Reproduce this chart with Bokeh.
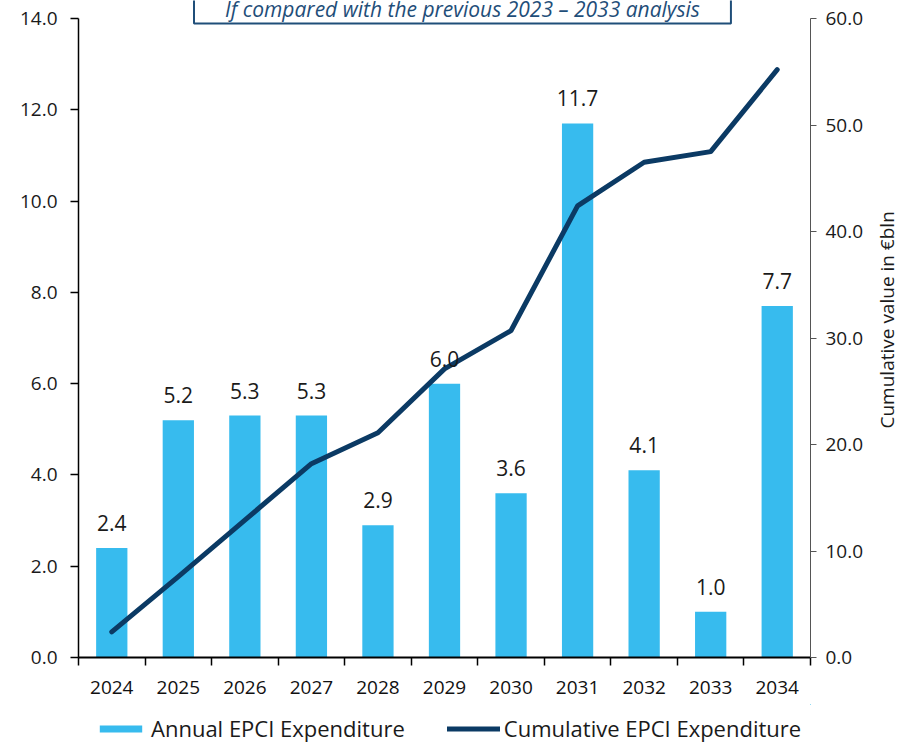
import math
from bokeh.plotting import figure
from bokeh.layouts import column
from bokeh.models import (ColumnDataSource, Range1d, LinearAxis, FixedTicker,
                          NumeralTickFormatter, Legend, LegendItem, Label)
from bokeh.core.properties import value
from bokeh.embed import file_html
from bokeh.resources import INLINE

# ---- data ----
years = ["2024", "2025", "2026", "2027", "2028", "2029", "2030", "2031", "2032", "2033", "2034"]
annual = [2.4, 5.2, 5.3, 5.3, 2.9, 6.0, 3.6, 11.7, 4.1, 1.0, 7.7]
cumulative = [2.4, 7.6, 12.9, 18.2, 21.1, 27.1, 30.7, 42.4, 46.5, 47.5, 55.2]
left_ticks = [0, 2, 4, 6, 8, 10, 12, 14]
right_ticks = [0, 10, 20, 30, 40, 50, 60]
left_max, right_max = 14, 60
series_names = ["Annual EPCI Expenditure", "Cumulative EPCI Expenditure"]
right_title = "Cumulative value in €bln"
note_text = "If compared with the previous 2023 – 2033 analysis"

BAR = "#37BBEE"
LINE = "#0B3A64"
NOTE = "#1F4E79"
FONT = "Open Sans"

n = len(years)
xc = [i + 0.5 for i in range(n)]
src = ColumnDataSource(dict(x=xc, year=years, annual=annual, cum=cumulative,
                            lbl=[f"{v:.1f}" for v in annual]))

# ---- layout (page pixels; the page has no margin) ----
W, H1, H2 = 915, 704, 40
FL, FR, FB = 78, 812, 657          # frame left/right/bottom; frame top = 0
TOP_GAP = 18                       # px between top and the 14.0 level
ext = FB / (FB - TOP_GAP)
px_per_unit = (FB - TOP_GAP) / left_max
px_per_cum = (FB - TOP_GAP) / right_max
TITLE_START_PX = 428               # page y where the rotated right title starts

p = figure(width=W, height=H1, output_backend="svg", toolbar_location=None,
           x_range=Range1d(0, n), y_range=Range1d(0, left_max * ext),
           min_border_left=FL, min_border_right=W - FR,
           min_border_top=0, min_border_bottom=H1 - FB,
           background_fill_color="white", border_fill_color="white")
p.outline_line_color = None
p.xgrid.visible = False
p.ygrid.visible = False
p.extra_y_ranges = {"cum": Range1d(0, right_max * ext)}

bars = p.vbar(x="x", top="annual", width=0.47, source=src, fill_color=BAR, line_color=None)
line = p.line(x="x", y="cum", source=src, y_range_name="cum", line_width=5,
              line_color=LINE, line_cap="round", line_join="round")
p.text(x="x", y="annual", text="lbl", source=src, text_align="center",
       text_baseline="alphabetic", y_offset=-25, text_font=value(FONT),
       text_font_size="21px", text_color="#1a1a1a")

# x axis: labels at centers, ticks at category boundaries
xa = p.xaxis[0]
xa.ticker = FixedTicker(ticks=xc, minor_ticks=list(range(n + 1)))
xa.major_label_overrides = {x: y for x, y in zip(xc, years)}
xa.major_tick_out = 0
xa.major_tick_in = 0
xa.minor_tick_out = 8
xa.minor_tick_in = 0
xa.minor_tick_line_color = "black"
xa.minor_tick_line_width = 1.5
xa.axis_line_color = "black"
xa.axis_line_width = 2
xa.major_label_text_font = FONT
xa.major_label_text_font_size = "19px"
xa.major_label_text_color = "#111111"
xa.major_label_standoff = 15

ya = p.yaxis[0]
ya.ticker = FixedTicker(ticks=left_ticks)
ya.formatter = NumeralTickFormatter(format="0.0")
ya.bounds = (0, left_max)
ya.major_tick_out = 8
ya.major_tick_in = 0
ya.minor_tick_out = 0
ya.minor_tick_in = 0
ya.axis_line_color = "black"
ya.axis_line_width = 1.5
ya.major_tick_line_width = 1.5
ya.major_label_text_font = FONT
ya.major_label_text_font_size = "19px"
ya.major_label_text_color = "#1a1a1a"
ya.major_label_standoff = 13

ra = LinearAxis(y_range_name="cum", ticker=FixedTicker(ticks=right_ticks),
                formatter=NumeralTickFormatter(format="0.0"), bounds=(0, right_max))
ra.major_tick_out = 6
ra.major_tick_in = 0
ra.minor_tick_out = 0
ra.minor_tick_in = 0
ra.axis_line_color = "#555555"
ra.major_tick_line_color = "#555555"
ra.major_label_text_font = FONT
ra.major_label_text_font_size = "19px"
ra.major_label_text_color = "#1a1a1a"
ra.major_label_standoff = 9
p.add_layout(ra, "right")

# right-hand title, drawn as the single rotated label of a bare axis
title_pos = (FB - TITLE_START_PX) / px_per_cum
ta = LinearAxis(y_range_name="cum", ticker=FixedTicker(ticks=[title_pos], minor_ticks=[]))
ta.major_label_overrides = {title_pos: right_title}
ta.major_label_orientation = math.pi / 2
ta.axis_line_color = None
ta.major_tick_line_color = None
ta.minor_tick_line_color = None
ta.major_tick_out = 0
ta.major_tick_in = 0
ta.major_label_standoff = 20
ta.major_label_text_font = FONT
ta.major_label_text_font_size = "19px"
ta.major_label_text_color = "#1a1a1a"
p.add_layout(ta, "right")

# note box at the top (padding order: left, right, top, bottom)
note_bottom_px = 23
note = Label(x=5.77, y=left_max - (note_bottom_px - TOP_GAP) / px_per_unit,
             text=note_text, text_align="center",
             text_baseline="bottom", text_font=FONT, text_font_size="21px",
             text_font_style="italic", text_color=NOTE,
             border_line_color=NOTE, border_line_width=2,
             background_fill_color="white", padding=(31, 31, 14, 1))
p.add_layout(note)

# legend strip (separate figure directly below); proxies use the same data,
# kept outside the strip's visible ranges
p2 = figure(width=W, height=H2, output_backend="svg", toolbar_location=None,
            x_axis_type=None, y_axis_type=None,
            x_range=Range1d(-3, -2), y_range=Range1d(-3, -2),
            min_border_left=FL, min_border_right=W - FR,
            min_border_top=0, min_border_bottom=0,
            background_fill_color="white", border_fill_color="white")
p2.outline_line_color = None
lb = p2.vbar(x="x", top="annual", width=0.47, source=src, fill_color=BAR, line_color=None)
ll = p2.line(x="x", y="cum", source=src, line_width=5, line_color=LINE, line_cap="round")
legend = Legend(items=[LegendItem(label=series_names[0], renderers=[lb]),
                       LegendItem(label=series_names[1], renderers=[ll])],
                location=(16, 1), orientation="horizontal", glyph_width=53,
                glyph_height=9, label_standoff=4, spacing=42, padding=0, margin=0,
                border_line_color=None, background_fill_alpha=0,
                label_text_font=FONT, label_text_font_size="22px",
                label_text_color="#1a1a1a")
p2.add_layout(legend, "center")

layout = column(p, p2, spacing=0)
open("out.html", "w").write(file_html(layout, INLINE))
